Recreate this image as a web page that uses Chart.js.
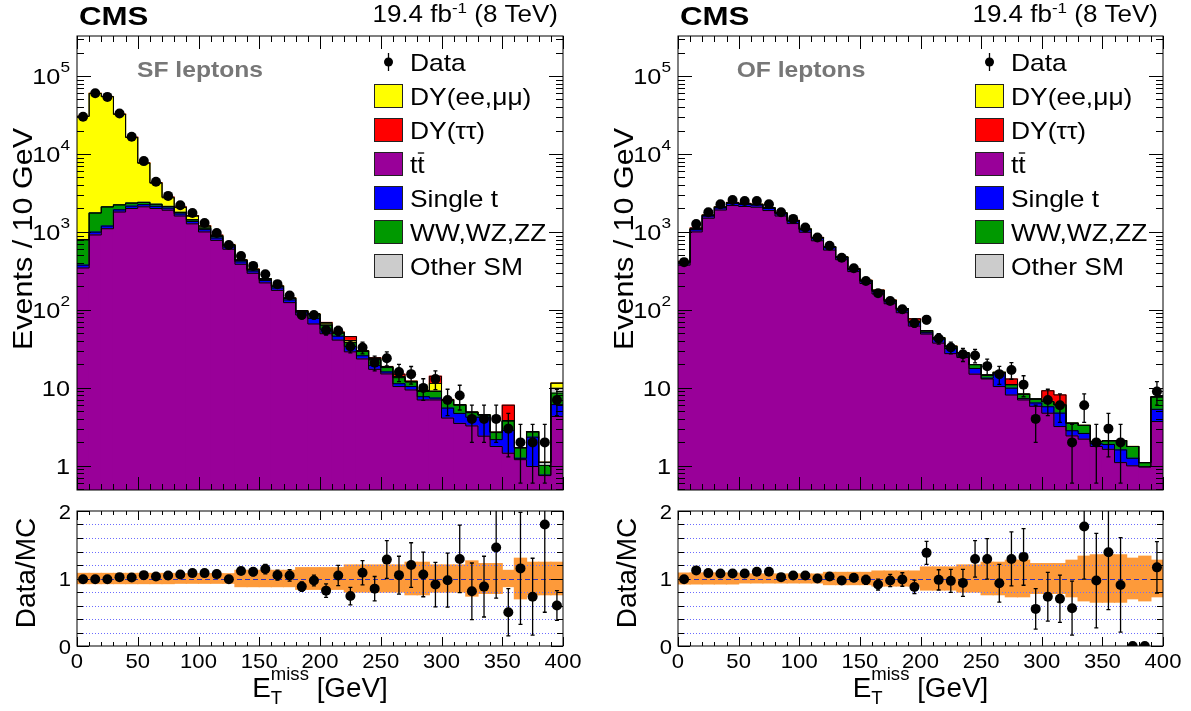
<!DOCTYPE html>
<html>
<head>
<meta charset="utf-8">
<script src="https://cdn.jsdelivr.net/npm/chart.js@4/dist/chart.umd.min.js"></script>
<style>
  html, body { margin: 0; padding: 0; background: #fff; }
  body { width: 1191px; height: 711px; position: relative; overflow: hidden; }
  canvas { position: absolute; }
</style>
</head>
<body>
<canvas id="sfTop" width="600" height="500" style="left:0;top:0"></canvas>
<canvas id="sfRatio" width="600" height="211" style="left:0;top:500px"></canvas>
<canvas id="ofTop" width="591" height="500" style="left:600px;top:0"></canvas>
<canvas id="ofRatio" width="591" height="211" style="left:600px;top:500px"></canvas>
<script>
const FONT = '"Liberation Sans", Arial, Helvetica, sans-serif';

// bins: 10 GeV wide, 0-400 GeV
const binCenters = [5, 15, 25, 35, 45, 55, 65, 75, 85, 95, 105, 115, 125, 135, 145, 155, 165, 175, 185, 195,
  205, 215, 225, 235, 245, 255, 265, 275, 285, 295, 305, 315, 325, 335, 345, 355, 365, 375, 385, 395];
const binEdges = [0, 10, 20, 30, 40, 50, 60, 70, 80, 90, 100, 110, 120, 130, 140, 150, 160, 170, 180, 190, 200,
  210, 220, 230, 240, 250, 260, 270, 280, 290, 300, 310, 320, 330, 340, 350, 360, 370, 380, 390, 400];

const xTickLabels = [0, 50, 100, 150, 200, 250, 300, 350, 400];
const logTickValues = [1, 10, 100, 1000, 10000, 100000];
const ratioTickLabels = [0, 1, 2];
const ratioRefLines = [0.2, 0.4, 0.6, 0.8, 1.0, 1.2, 1.4, 1.6, 1.8];

const legendLabels = ["Data", "DY(ee,μμ)", "DY(ττ)", "tt", "Single t", "WW,WZ,ZZ", "Other SM"];
const legendColors = [null, "#ffff00", "#ff0000", "#990099", "#0000ff", "#009900", "#cccccc"];

// stack order, bottom to top
const stackColors = ["#990099", "#0000ff", "#009900", "#cccccc", "#ffff00", "#ff0000"];

// ---- same-flavour leptons ----
const sfData = [30000, 60000, 54000, 33000, 16600, 8100, 4400, 2900, 2200, 1750, 1300, 970, 680, 490, 367, 287, 214, 153, 86, 86,
  55, 54, 34, 33, 21, 24, 16, 15, 10, 13, 7, 8, 4, 4, 4, 3, 2, 2, 2, 7];
const sfDataErr = [170, 245, 232, 182, 129, 90, 66, 54, 47, 42, 36, 31, 26, 22, 19, 17, 15, 12, 9, 9,
  7.5, 7.3, 5.8, 5.7, 4.5, 4.9, 4, 3.8, 3.1, 3.5, 2.6, 2.8, 2, 2, 2, 1.7, 1.4, 1.4, 1.4, 2.6];
const sfTT = [345, 915, 1100, 1800, 2000, 2100, 2000, 1900, 1600, 1270, 1000, 780, 600, 385, 295, 222, 178, 124, 86, 66,
  49.5, 41, 29, 23.5, 17.3, 15.1, 10.4, 9.4, 7.0, 7.0, 4.1, 3.5, 3.25, 2.4, 1.77, 1.45, 1.2, 0.98, 0.75, 4.3];
const sfSingleT = [30, 80, 90, 120, 140, 140, 130, 120, 100, 90, 70, 55, 40, 28, 20, 16, 13, 10, 6, 12,
  7, 5, 5, 2.3, 2, 0.9, 0.9, 1.0, 0.7, 0.4, 1.4, 1.2, 0.95, 1.8, 0.4, 1.4, 0.05, 1.35, 0.01, 1.8];
const sfVV = [415, 750, 900, 300, 200, 150, 130, 100, 80, 70, 50, 40, 30, 18, 12, 9, 8, 6, 4, 9,
  7, 4, 4, 3.5, 3.5, 2.2, 2.2, 1.5, 1.3, 1.6, 1.4, 1.3, 0.6, 0.3, 0.5, 0.9, 0.45, 0.4, 0.25, 2.45];
const sfOther = [10, 10, 10, 10, 10, 10, 10, 8, 6, 5, 4, 3, 3, 2, 2, 1, 1, 1, 0.5, 2,
  0.5, 0.5, 0.5, 0.3, 0.4, 0.2, 0.2, 0.1, 0.1, 0.1, 0.1, 0.05, 0.1, 0.02, 0.03, 0.05, 0.01, 0.01, 0.1, 1.35];
const sfDYll = [29500, 58000, 52200, 30000, 13900, 5200, 1950, 610, 270, 155, 56, 20, 12, 4, 3, 2, 2, 1, 1, 0,
  2.5, 1, 2, 0.2, 0.6, 0.2, 0.3, 0.1, 0.1, 2.3, 0.05, 0.05, 0, 0, 0, 0, 0, 0, 0, 1.6];
const sfDYtautau = [100, 150, 200, 200, 150, 100, 80, 60, 40, 30, 20, 12, 5, 3, 2, 2, 2, 1, 0.5, 0,
  2.5, 0.5, 5, 0.2, 0.6, 0.2, 1.0, 0.1, 0.1, 2.7, 0.05, 0, 0, 0, 0, 2.2, 0, 0, 0, 0];
const sfRatio = [0.99, 0.99, 0.99, 1.02, 1.015, 1.05, 1.03, 1.045, 1.06, 1.08, 1.08, 1.065, 0.99, 1.11, 1.10, 1.14, 1.05, 1.045, 0.88, 0.97,
  0.82, 1.045, 0.74, 1.085, 0.85, 1.28, 1.05, 1.20, 1.06, 0.91, 0.975, 1.29, 0.81, 0.88, 1.46, 0.50, 1.15, 0.73, 1.80, 0.60];
const sfRatioErr = [0.01, 0.005, 0.005, 0.01, 0.01, 0.01, 0.02, 0.02, 0.02, 0.025, 0.03, 0.035, 0.04, 0.05, 0.06, 0.07, 0.075, 0.085, 0.07, 0.08,
  0.1, 0.15, 0.13, 0.18, 0.18, 0.28, 0.28, 0.33, 0.33, 0.33, 0.4, 0.5, 0.42, 0.45, 0.75, 0.35, 0.83, 0.57, 1.3, 0.22];
const sfBand = [0.075, 0.075, 0.075, 0.075, 0.075, 0.075, 0.075, 0.075, 0.07, 0.07, 0.07, 0.07, 0.07, 0.12, 0.12, 0.12, 0.12, 0.12, 0.16, 0.16,
  0.16, 0.16, 0.2, 0.2, 0.2, 0.2, 0.2, 0.24, 0.24, 0.2, 0.2, 0.2, 0.26, 0.22, 0.22, 0.12, 0.3, 0.24, 0.24, 0.24];

// ---- opposite-flavour leptons ----
const ofData = [410, 1260, 1790, 2260, 2570, 2500, 2500, 2260, 1790, 1470, 1140, 850, 665, 466, 343, 235, 164, 130, 102, 68,
  75, 43, 33, 27, 26, 19, 15, 17, 11, 4, 7, 6, 2, 6, 2, 3, 2, 0, 0, 9];
const ofDataErr = [20, 35, 42, 48, 51, 50, 50, 48, 42, 38, 34, 29, 26, 22, 18.5, 15.3, 12.8, 11.4, 10, 8.2,
  8.7, 6.6, 5.7, 5.2, 5.1, 4.4, 3.9, 4.1, 3.3, 2.0, 2.6, 2.4, 1.4, 2.4, 1.4, 1.7, 1.4, 0, 0, 3.0];
const ofTT = [375, 1000, 1500, 1910, 2180, 2120, 2075, 1880, 1600, 1280, 990, 770, 585, 440, 310, 218, 160, 120, 92, 62,
  49, 37.5, 27.5, 24.5, 15, 13, 10.4, 8.1, 7, 5.8, 4.73, 3.19, 2.42, 2.2, 1.77, 1.63, 1.1, 1.0, 0.97, 3.7];
const ofSingleT = [25, 65, 95, 120, 135, 135, 130, 120, 110, 90, 72, 58, 44, 28, 20, 15, 12, 8, 7, 7,
  2, 4.5, 4.5, 1, 2.7, 0.3, 5, 1.8, 0.3, 0.6, 1.0, 1.55, 0.4, 0.4, 0.15, 0.25, 0.5, 0.25, 0, 1.6];
const ofVV = [10, 25, 32, 40, 45, 45, 45, 40, 35, 28, 22, 17, 12, 8, 6, 5, 5, 4, 4, 2,
  3, 1.5, 2, 2.5, 2.2, 1.3, 0.4, 1.1, 1.0, 0.8, 0.95, 1.33, 0.7, 0.7, 0.13, 0.22, 0.5, 0.52, 0.13, 2.3];
const ofOther = [2, 4, 5, 5, 5, 5, 5, 5, 4, 4, 2, 2, 1, 1, 1, 1, 1, 0.5, 0.5, 0.5,
  0, 0.5, 0, 0.3, 0, 0, 0, 0, 0, 0, 0, 0, 0, 0, 0, 0, 0, 0, 0, 0.1];
const ofDYll = [1, 1, 0, 0, 0, 0, 0, 0, 0, 0, 0, 0, 0, 0, 0, 0, 0, 0, 0, 0,
  0, 0, 0, 0, 0, 0, 0, 0, 0, 0, 0, 0, 0, 0, 0, 0, 0, 0, 0, 0];
const ofDYtautau = [7, 30, 25, 25, 25, 20, 15, 10, 6, 5, 4, 3, 3, 3, 3, 1, 2, 1.5, 0.5, 5.5,
  0, 0, 0.4, 0, 0, 0, 0, 2.0, 0, 0, 2.5, 2.05, 0, 0, 0, 0, 0, 0, 0, 0];
const ofRatio = [0.99, 1.12, 1.08, 1.075, 1.075, 1.075, 1.10, 1.10, 1.02, 1.045, 1.045, 1.0, 1.03, 0.97, 1.01, 0.98, 0.91, 0.97, 0.985, 0.875,
  1.38, 0.98, 0.965, 0.935, 1.29, 1.29, 0.93, 1.29, 1.32, 0.55, 0.73, 0.70, 0.56, 1.77, 0.97, 1.39, 0.905, 0, 0, 1.165];
const ofRatioErr = [0.01, 0.01, 0.01, 0.01, 0.01, 0.01, 0.01, 0.01, 0.02, 0.02, 0.03, 0.035, 0.04, 0.045, 0.055, 0.065, 0.08, 0.09, 0.1, 0.1,
  0.17, 0.15, 0.17, 0.2, 0.27, 0.3, 0.28, 0.4, 0.42, 0.3, 0.36, 0.35, 0.4, 0.78, 0.7, 0.85, 0.7, 0, 0, 0.38];
const ofBand = [0.08, 0.08, 0.08, 0.08, 0.08, 0.065, 0.065, 0.065, 0.065, 0.065, 0.065, 0.065, 0.09, 0.09, 0.09, 0.09, 0.11, 0.11, 0.11, 0.11,
  0.17, 0.17, 0.17, 0.2, 0.2, 0.24, 0.24, 0.27, 0.27, 0.22, 0.22, 0.22, 0.27, 0.33, 0.35, 0.35, 0.35, 0.3, 0.33, 0.27];

// draw a run of text pieces (for superscripts etc.)
function rich(ctx, parts, x, y, align, sx) {
  let w = 0;
  parts.forEach((p) => {
    ctx.font = (p.bold ? "bold " : "") + p.size + "px " + FONT;
    p.w = ctx.measureText(p.t).width;
    w += p.adv !== undefined ? p.adv : p.w;
  });
  let cx = align === "right" ? -w : align === "center" ? -w / 2 : 0;
  ctx.save();
  ctx.translate(x, y);
  ctx.scale(sx || 1, 1);
  parts.forEach((p) => {
    ctx.font = (p.bold ? "bold " : "") + p.size + "px " + FONT;
    ctx.fillStyle = p.color || "#000";
    ctx.textAlign = "left";
    ctx.textBaseline = "alphabetic";
    ctx.fillText(p.t, cx, p.dy || 0);
    cx += p.adv !== undefined ? p.adv : p.w;
  });
  ctx.restore();
}

function tick(ctx, x1, y1, x2, y2) {
  ctx.moveTo(x1, y1);
  ctx.lineTo(x2, y2);
}

const rootPad = {
  id: "rootPad",
  afterDatasetDraw(chart, args, o) {
    if (!o.ratio || args.index !== 0) return;
    const { ctx, chartArea: a, scales: { y } } = chart;
    ctx.save();
    ctx.lineWidth = 1;
    ratioRefLines.forEach((v) => {
      const py = Math.round(y.getPixelForValue(v)) + 0.5;
      ctx.strokeStyle = v === 1 ? "#3030b8" : "#6b6bff";
      ctx.setLineDash(v === 1 ? [5, 3] : [1, 2]);
      ctx.beginPath();
      ctx.moveTo(a.left, py);
      ctx.lineTo(a.right, py);
      ctx.stroke();
    });
    ctx.restore();
  },
  afterDatasetsDraw(chart, args, o) {
    const { ctx, chartArea: a, scales: { x, y } } = chart;

    // error bars on data points
    ctx.save();
    ctx.beginPath();
    ctx.rect(a.left, a.top, a.right - a.left, a.bottom - a.top);
    ctx.clip();
    ctx.strokeStyle = "#000";
    ctx.lineWidth = 1.3;
    chart.data.datasets.forEach((ds) => {
      if (!ds.errorBars) return;
      ds.data.forEach((p, j) => {
        const e = ds.errorBars[j];
        if (p.y == null || !e) return;
        const px = x.getPixelForValue(p.x);
        const hi = y.getPixelForValue(p.y + e);
        const lo = p.y - e > 0 || !o.log ? y.getPixelForValue(p.y - e) : a.bottom + 10;
        ctx.beginPath();
        tick(ctx, px, hi, px, lo);
        tick(ctx, px - 2, hi, px + 2, hi);
        tick(ctx, px - 2, lo, px + 2, lo);
        ctx.stroke();
      });
    });
    ctx.restore();

    ctx.save();
    ctx.strokeStyle = "#000";
    ctx.lineWidth = 1;
    ctx.strokeRect(a.left, a.top, a.right - a.left, a.bottom - a.top);

    // x ticks, top and bottom, pointing inwards
    ctx.beginPath();
    for (let v = 0; v <= 400; v += 10) {
      const px = Math.round(x.getPixelForValue(v)) + 0.5;
      const len = v % 50 === 0 ? o.xMajor : o.xMinor;
      tick(ctx, px, a.bottom, px, a.bottom - len);
      tick(ctx, px, a.top, px, a.top + len);
    }
    // y ticks, left and right
    const yTicks = [];
    if (o.log) {
      for (let d = -1; d <= 5; d++) {
        for (let k = 1; k <= 9; k++) {
          const v = k * Math.pow(10, d);
          if (v >= y.min && v <= y.max) yTicks.push([v, k === 1]);
        }
      }
    } else {
      ratioRefLines.concat(ratioTickLabels).forEach((v) => yTicks.push([v, ratioTickLabels.includes(v)]));
    }
    yTicks.forEach(([v, major]) => {
      const py = Math.round(y.getPixelForValue(v)) + 0.5;
      const len = major ? o.yMajor : o.yMinor;
      tick(ctx, a.left, py, a.left + len, py);
      tick(ctx, a.right, py, a.right - len, py);
    });
    ctx.stroke();
    ctx.restore();

    if (o.log) {
      // y tick labels 1, 10, 10^2 ...
      logTickValues.forEach((v, n) => {
        const py = y.getPixelForValue(v);
        const parts = n < 2 ? [{ t: String(v), size: 22 }] : [{ t: "10", size: 22 }, { t: String(n), size: 15, dy: -12 }];
        rich(ctx, parts, a.left - 7, py + 8, "right", 1.15);
      });
      // CMS + luminosity
      rich(ctx, [{ t: "CMS", size: 25, bold: true }], a.left + 2, 25, "left", 1.25);
      rich(ctx, [{ t: "19.4 fb", size: 23 }, { t: "-1", size: 15, dy: -9 }, { t: " (8 TeV)", size: 23 }], a.right - 5, 22, "right", 1.13);
      // channel label
      rich(ctx, [{ t: o.channel, size: 22, bold: true, color: "#777" }], a.left + 123, 77, "center", 1.12);
      // y title
      ctx.save();
      ctx.translate(a.left - 45, 239);
      ctx.rotate(-Math.PI / 2);
      rich(ctx, [{ t: "Events / 10 GeV", size: 28 }], 0, 0, "center", 1.09);
      ctx.restore();
      // legend
      legendLabels.forEach((label, k) => {
        const ry = a.top + 26 + k * 34;
        const bx = a.left + 297;
        ctx.save();
        if (legendColors[k]) {
          ctx.fillStyle = legendColors[k];
          ctx.fillRect(bx, ry - 12, 29, 24);
          ctx.strokeStyle = "#222";
          ctx.lineWidth = 1;
          ctx.strokeRect(bx + 0.5, ry - 11.5, 28, 23);
        } else {
          ctx.fillStyle = "#000";
          ctx.strokeStyle = "#000";
          ctx.lineWidth = 1.3;
          ctx.beginPath();
          ctx.moveTo(bx + 14.5, ry - 9);
          ctx.lineTo(bx + 14.5, ry + 9);
          ctx.stroke();
          ctx.beginPath();
          ctx.arc(bx + 14.5, ry, 4.5, 0, Math.PI * 2);
          ctx.fill();
        }
        ctx.restore();
        rich(ctx, [{ t: label, size: 24 }], bx + 36, ry + 8.5, "left", 1.1);
        if (label === "tt") {
          ctx.save();
          ctx.font = "24px " + FONT;
          const w1 = ctx.measureText("t").width * 1.1;
          ctx.strokeStyle = "#000";
          ctx.lineWidth = 1.3;
          ctx.beginPath();
          ctx.moveTo(bx + 36 + w1 + 0.5, ry - 11);
          ctx.lineTo(bx + 36 + 2 * w1 - 0.5, ry - 11);
          ctx.stroke();
          ctx.restore();
        }
      });
    } else {
      ratioTickLabels.forEach((v) => {
        rich(ctx, [{ t: String(v), size: 21 }], a.left - 6, y.getPixelForValue(v) + 7.5, "right", 1.05);
      });
      xTickLabels.forEach((v) => {
        rich(ctx, [{ t: String(v), size: 21 }], x.getPixelForValue(v), a.bottom + 22, "center", 1.05);
      });
      // x title: E_T^miss [GeV]
      rich(ctx, [
        { t: "E", size: 27 },
        { t: "T", size: 18, dy: 7, adv: 0 },
        { t: "miss", size: 18, dy: -17 },
        { t: " [GeV]", size: 27 }
      ], (a.left + a.right) / 2, a.bottom + 51, "center", 1.03);
      ctx.save();
      ctx.translate(a.left - 42, 73);
      ctx.rotate(-Math.PI / 2);
      rich(ctx, [{ t: "Data/MC", size: 28 }], 0, 0, "center", 1.0);
      ctx.restore();
    }
  }
};

function makeTop(id, comps, data, errs, channel, padLeft, padRight) {
  const datasets = [];
  let prev = binCenters.map(() => 0);
  const tops = [];
  comps.forEach((comp, k) => {
    const lo = prev;
    const hi = lo.map((v, i) => v + comp[i]);
    datasets.push({
      type: "bar",
      data: binCenters.map((c, i) => ({ x: c, y: k === 0 ? hi[i] : [lo[i], hi[i]] })),
      backgroundColor: stackColors[k],
      borderWidth: 0,
      inflateAmount: 0.6,
      grouped: false,
      barPercentage: 1,
      categoryPercentage: 1,
      order: 3
    });
    tops.push(hi);
    prev = hi;
  });
  tops.forEach((hi) => {
    datasets.push({
      type: "line",
      data: binEdges.map((e, i) => ({ x: e, y: hi[Math.min(i, hi.length - 1)] })),
      stepped: "before",
      borderColor: "#000",
      borderWidth: 1,
      pointRadius: 0,
      fill: false,
      order: 2
    });
  });
  datasets.push({
    type: "line",
    data: binCenters.map((c, i) => ({ x: c, y: data[i] > 0 ? data[i] : null })),
    showLine: false,
    pointRadius: 5,
    pointBackgroundColor: "#000",
    pointBorderWidth: 0,
    errorBars: errs,
    order: 1
  });

  return new Chart(document.getElementById(id), {
    type: "bar",
    data: { datasets },
    options: {
      responsive: false,
      animation: false,
      layout: { padding: { left: padLeft, right: padRight, top: 36, bottom: 10 } },
      scales: {
        x: { type: "linear", min: 0, max: 400, offset: false, display: false },
        y: { type: "logarithmic", min: 0.49, max: 3.26e5, display: false }
      },
      plugins: {
        legend: { display: false },
        tooltip: { enabled: false },
        rootPad: { log: true, channel, xMajor: 13, xMinor: 6, yMajor: 14, yMinor: 7 }
      }
    },
    plugins: [rootPad]
  });
}

function makeRatio(id, ratio, errs, band, padLeft, padRight) {
  return new Chart(document.getElementById(id), {
    type: "bar",
    data: {
      datasets: [
        {
          type: "bar",
          data: binCenters.map((c, i) => ({ x: c, y: [1 - band[i], 1 + band[i]] })),
          backgroundColor: "#fd9a3a",
          borderWidth: 0,
          inflateAmount: 0.6,
          grouped: false,
          barPercentage: 1,
          categoryPercentage: 1,
          order: 2
        },
        {
          type: "line",
          data: binCenters.map((c, i) => ({ x: c, y: ratio[i] })),
          showLine: false,
          pointRadius: 5,
          pointBackgroundColor: "#000",
          pointBorderWidth: 0,
          errorBars: errs,
          order: 1
        }
      ]
    },
    options: {
      responsive: false,
      animation: false,
      layout: { padding: { left: padLeft, right: padRight, top: 11, bottom: 65 } },
      scales: {
        x: { type: "linear", min: 0, max: 400, offset: false, display: false },
        y: { type: "linear", min: 0, max: 2, display: false }
      },
      plugins: {
        legend: { display: false },
        tooltip: { enabled: false },
        rootPad: { log: false, ratio: true, xMajor: 9, xMinor: 4, yMajor: 12, yMinor: 6 }
      }
    },
    plugins: [rootPad]
  });
}

makeTop("sfTop", [sfTT, sfSingleT, sfVV, sfOther, sfDYll, sfDYtautau], sfData, sfDataErr, "SF leptons", 77, 37);
makeRatio("sfRatio", sfRatio, sfRatioErr, sfBand, 77, 37);
makeTop("ofTop", [ofTT, ofSingleT, ofVV, ofOther, ofDYll, ofDYtautau], ofData, ofDataErr, "OF leptons", 78, 28);
makeRatio("ofRatio", ofRatio, ofRatioErr, ofBand, 78, 28);
</script>
</body>
</html>
